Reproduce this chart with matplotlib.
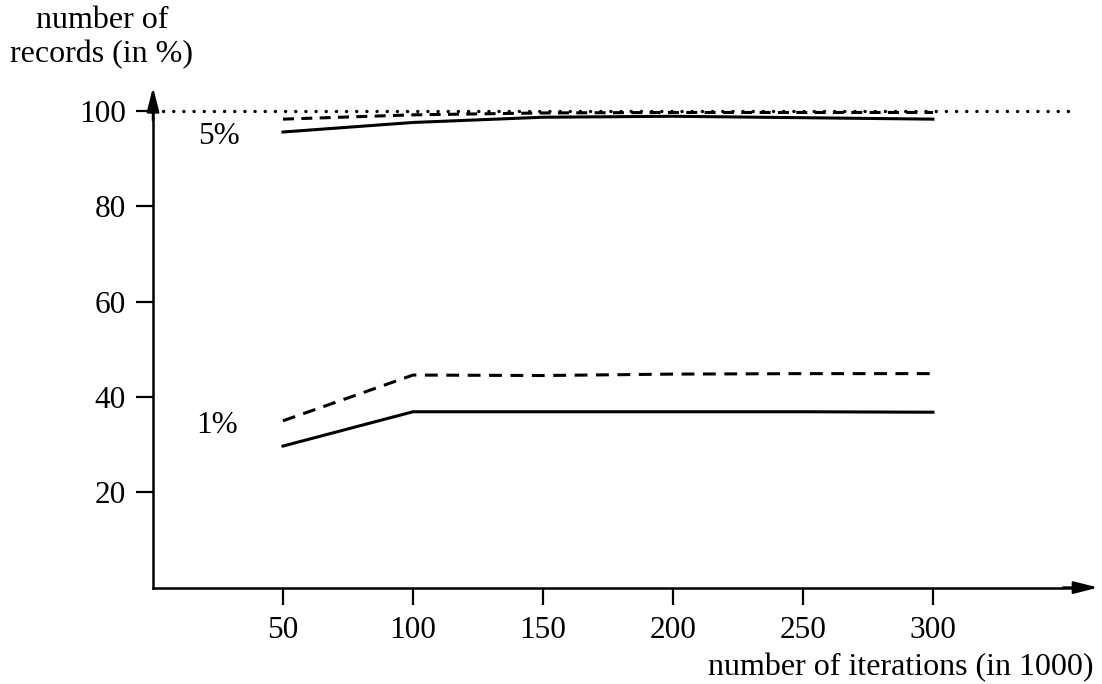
import matplotlib
matplotlib.use("Agg")
import matplotlib.pyplot as plt

iterations = [50, 100, 150, 200, 250, 300]
solid_5 = [95.6, 97.6, 98.7, 98.9, 98.6, 98.3]
dashed_5 = [98.3, 99.2, 99.6, 99.7, 99.7, 99.7]
solid_1 = [29.7, 36.9, 36.9, 36.9, 36.9, 36.8]
dashed_1 = [35.0, 44.6, 44.5, 44.8, 44.9, 44.9]
reference_level = 100
x_ticks = [50, 100, 150, 200, 250, 300]
y_ticks = [20, 40, 60, 80, 100]

plt.rcParams['font.family'] = ['Liberation Serif', 'DejaVu Serif']
FS = 22.5
FS_LAB = 23

fig = plt.figure(figsize=(11.02, 6.84), dpi=100)
ax = fig.add_axes([0, 0, 1, 1])
ax.set_xlim(-58.85, 365.0)
ax.set_ylim(-20.23, 123.3)
ax.patch.set_alpha(0)

for s in ['top', 'right']:
    ax.spines[s].set_visible(False)
ax.spines['left'].set_position(('data', 0))
ax.spines['bottom'].set_position(('data', 0))
ax.spines['left'].set_bounds(0, 103)
ax.spines['bottom'].set_bounds(0, 358)
ax.spines['left'].set_linewidth(1.8)
ax.spines['bottom'].set_linewidth(1.8)

ax.set_xticks(x_ticks)
ax.set_yticks(y_ticks)
ax.set_yticklabels([str(v) for v in y_ticks])
ax.tick_params(axis='both', direction='out', length=12.5, width=1.6, labelsize=FS)
ax.tick_params(axis='y', pad=7)
ax.tick_params(axis='x', pad=8)

# arrowheads
arrow = dict(arrowstyle='-|>,head_length=1.45,head_width=0.37', color='black', lw=1.8,
             shrinkA=0, shrinkB=0)
ax.annotate('', xy=(363.5, 0), xytext=(350, 0), arrowprops=arrow)
ax.annotate('', xy=(0, 105), xytext=(0, 98), arrowprops=arrow)

lw = 2.2
ax.plot(iterations, solid_5, color='black', lw=lw)
l, = ax.plot(iterations, dashed_5, color='black', lw=lw)
l.set_dashes((3.6, 2.4))
ax.plot(iterations, solid_1, color='black', lw=lw)
l, = ax.plot(iterations, dashed_1, color='black', lw=lw)
l.set_dashes((4.2, 2.8))

ax.plot([4, 352], [reference_level, reference_level], color='black', lw=2.4,
        linestyle=(0, (0.05, 3.0)), dash_capstyle='round')

ax.text(25.5, 94.6, '5%', fontsize=FS, ha='center', va='center')
ax.text(24.5, 34.0, '1%', fontsize=FS, ha='center', va='center')

fig.text(102 / 1102, 1 - 21 / 684, 'number of', fontsize=FS_LAB, ha='center', va='center')
fig.text(102 / 1102, 1 - 55 / 684, 'records (in %)', fontsize=FS_LAB, ha='center', va='center')
fig.text(1094 / 1102, 1 - 668 / 684, 'number of iterations (in 1000)', fontsize=FS_LAB,
         ha='right', va='center')

fig.savefig('out.png', dpi=100)
